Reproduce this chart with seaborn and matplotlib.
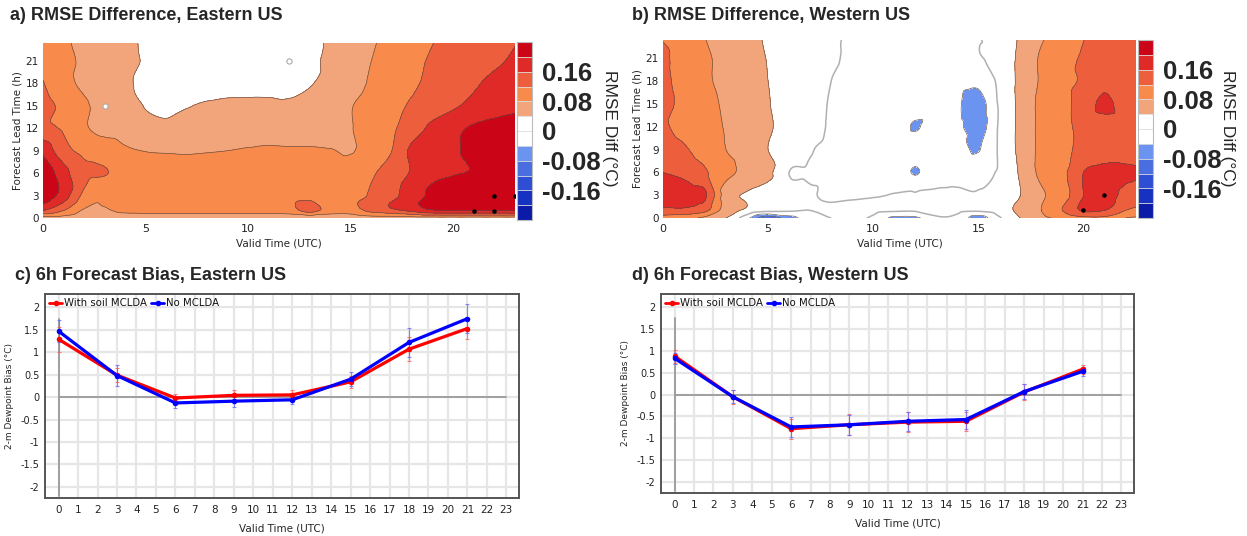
import matplotlib
matplotlib.use('Agg')
import matplotlib.pyplot as plt
import matplotlib.tri as mtri
from matplotlib.lines import Line2D
import numpy as np
import pandas as pd
import seaborn as sns

# RMSE difference grids: rows = forecast lead time, columns = valid hour 0..23
valid_hours = list(range(24))
lead_hours = [0, 1, 3, 6, 9, 12, 15, 18, 21, 24]

rmse_east = [
    [0.06, 0.06, 0.05, 0.05, 0.05, 0.05, 0.05, 0.05, 0.05, 0.05, 0.05, 0.05, 0.05, 0.05, 0.05, 0.05, 0.06, 0.06, 0.06, 0.06, 0.06, 0.06, 0.06, 0.06],
    [0.16, 0.12, 0.075, 0.075, 0.09, 0.095, 0.095, 0.095, 0.095, 0.095, 0.095, 0.095, 0.10, 0.135, 0.10, 0.10, 0.13, 0.15, 0.17, 0.195, 0.20, 0.20, 0.20, 0.20],
    [0.23, 0.18, 0.11, 0.085, 0.095, 0.10, 0.10, 0.10, 0.10, 0.10, 0.10, 0.10, 0.10, 0.105, 0.10, 0.105, 0.125, 0.15, 0.18, 0.21, 0.225, 0.23, 0.235, 0.235],
    [0.235, 0.175, 0.13, 0.122, 0.11, 0.10, 0.10, 0.10, 0.10, 0.10, 0.10, 0.10, 0.10, 0.10, 0.10, 0.105, 0.115, 0.14, 0.165, 0.19, 0.198, 0.203, 0.22, 0.23],
    [0.19, 0.135, 0.11, 0.10, 0.085, 0.079, 0.077, 0.076, 0.078, 0.08, 0.083, 0.086, 0.085, 0.085, 0.082, 0.077, 0.10, 0.12, 0.17, 0.18, 0.195, 0.21, 0.225, 0.23],
    [0.13, 0.115, 0.085, 0.07, 0.065, 0.055, 0.05, 0.06, 0.06, 0.06, 0.058, 0.055, 0.055, 0.055, 0.065, 0.078, 0.10, 0.115, 0.14, 0.17, 0.19, 0.205, 0.215, 0.22],
    [0.135, 0.11, 0.085, 0.07, 0.06, 0.038, 0.03, 0.038, 0.045, 0.05, 0.05, 0.048, 0.045, 0.05, 0.06, 0.078, 0.095, 0.11, 0.125, 0.14, 0.155, 0.17, 0.18, 0.19],
    [0.122, 0.09, 0.075, 0.065, 0.045, 0.035, 0.03, 0.025, 0.02, 0.02, 0.02, 0.025, 0.03, 0.038, 0.05, 0.065, 0.085, 0.105, 0.115, 0.13, 0.145, 0.156, 0.168, 0.175],
    [0.11, 0.09, 0.075, 0.07, 0.055, 0.035, 0.02, 0.015, 0.01, 0.01, 0.012, 0.015, 0.02, 0.03, 0.05, 0.065, 0.08, 0.095, 0.11, 0.125, 0.135, 0.15, 0.155, 0.165],
    [0.10, 0.085, 0.07, 0.065, 0.048, 0.035, 0.02, 0.015, 0.01, 0.01, 0.01, 0.015, 0.02, 0.03, 0.045, 0.06, 0.075, 0.09, 0.10, 0.118, 0.13, 0.14, 0.15, 0.158],
]

rmse_west = [
    [0.10, 0.09, 0.07, 0.04, -0.03, -0.11, -0.06, -0.01, 0.0, 0.002, -0.005, -0.05, -0.05, -0.005, -0.01, -0.06, -0.005, 0.04, 0.07, 0.09, 0.11, 0.11, 0.08, 0.07],
    [0.15, 0.15, 0.13, 0.06, 0.03, 0.01, 0.005, 0.0, 0.005, 0.008, 0.008, 0.005, 0.004, 0.006, 0.008, 0.005, 0.02, 0.05, 0.08, 0.12, 0.165, 0.16, 0.12, 0.10],
    [0.18, 0.175, 0.165, 0.06, 0.035, 0.02, 0.01, 0.003, -0.005, -0.004, -0.002, 0.001, 0.003, 0.004, 0.004, 0.002, 0.01, 0.04, 0.075, 0.10, 0.16, 0.175, 0.15, 0.14],
    [0.16, 0.15, 0.125, 0.09, 0.07, 0.05, 0.0, -0.003, -0.005, -0.01, -0.01, -0.012, -0.043, -0.012, -0.01, -0.01, 0.005, 0.045, 0.09, 0.11, 0.16, 0.17, 0.165, 0.16],
    [0.135, 0.125, 0.10, 0.08, 0.065, 0.04, 0.02, 0.002, -0.005, -0.01, -0.012, -0.015, -0.018, -0.02, -0.028, -0.042, 0.005, 0.05, 0.09, 0.11, 0.13, 0.14, 0.145, 0.145],
    [0.125, 0.11, 0.09, 0.078, 0.065, 0.045, 0.025, 0.01, -0.003, -0.01, -0.013, -0.018, -0.043, -0.02, -0.03, -0.06, 0.005, 0.05, 0.09, 0.11, 0.13, 0.14, 0.14, 0.14],
    [0.14, 0.105, 0.09, 0.075, 0.06, 0.042, 0.025, 0.01, -0.002, -0.01, -0.015, -0.018, -0.022, -0.028, -0.035, -0.058, 0.005, 0.05, 0.09, 0.11, 0.135, 0.17, 0.14, 0.14],
    [0.135, 0.10, 0.085, 0.072, 0.06, 0.04, 0.025, 0.012, 0.0, -0.008, -0.012, -0.014, -0.016, -0.018, -0.025, -0.03, 0.008, 0.05, 0.085, 0.11, 0.125, 0.15, 0.14, 0.145],
    [0.13, 0.10, 0.085, 0.07, 0.055, 0.038, 0.02, 0.012, 0.004, -0.005, -0.01, -0.012, -0.012, -0.01, -0.007, -0.002, 0.01, 0.05, 0.085, 0.105, 0.125, 0.14, 0.145, 0.15],
    [0.115, 0.10, 0.08, 0.065, 0.05, 0.035, 0.02, 0.01, 0.005, -0.005, -0.01, -0.015, -0.015, -0.01, -0.005, -0.001, 0.01, 0.045, 0.075, 0.095, 0.118, 0.13, 0.14, 0.145],
]

# significance markers (valid hour, lead hour)
east_sig_x = [21, 22, 22, 23]
east_sig_y = [1, 1, 3, 3]
east_open_x = [3, 12]
east_open_y = [15, 21]
west_sig_x = [20, 21]
west_sig_y = [1, 3]

levels = [-0.24, -0.20, -0.16, -0.12, -0.08, -0.04, 0, 0.04, 0.08, 0.12, 0.16, 0.20, 0.24]
level_colors = ['#0a1ba8', '#1532c0', '#2e4fd3', '#4a6ee0', '#6b93f0', '#ffffff',
                '#ffffff', '#f2a57a', '#f88b4c', '#ec5e3c', '#df2a27', '#cc0418']
cbar_ticks = [-0.16, -0.08, 0, 0.08, 0.16]
cbar_labels = ['-0.16', '-0.08', '0', '0.08', '0.16']

# 6h forecast bias
bias_hours = [0, 3, 6, 9, 12, 15, 18, 21]
east_soil = [1.29, 0.49, -0.02, 0.04, 0.05, 0.34, 1.07, 1.53]
east_soil_err = [0.28, 0.15, 0.10, 0.12, 0.11, 0.13, 0.27, 0.24]
east_none = [1.47, 0.48, -0.13, -0.09, -0.06, 0.40, 1.22, 1.75]
east_none_err = [0.25, 0.23, 0.12, 0.13, 0.10, 0.15, 0.33, 0.33]
west_soil = [0.88, -0.05, -0.78, -0.69, -0.63, -0.61, 0.06, 0.58]
west_soil_err = [0.15, 0.16, 0.23, 0.24, 0.23, 0.22, 0.18, 0.10]
west_none = [0.83, -0.05, -0.74, -0.69, -0.61, -0.57, 0.07, 0.53]
west_none_err = [0.13, 0.15, 0.23, 0.23, 0.22, 0.22, 0.17, 0.10]
runs = ['With soil MCLDA', 'No MCLDA']
run_colors = {'With soil MCLDA': '#ff0000', 'No MCLDA': '#0000ff'}
err_colors = {'With soil MCLDA': '#ff6060', 'No MCLDA': '#6a6aff'}
bias_yticks = [-2, -1.5, -1, -0.5, 0, 0.5, 1, 1.5, 2]
bias_ylabels = ['-2', '-1.5', '-1', '-0.5', '0', '0.5', '1', '1.5', '2']

sns.set_style('white')
plt.rcParams['font.family'] = ['DejaVu Sans']
W, H = 1247, 536


def box(l, t, r, b):
    return [l / W, 1 - b / H, (r - l) / W, (b - t) / H]


def smooth_grid(grid):
    # smooth (cubic) interpolation of the coarse grid for nicer contours
    gx, gy = np.meshgrid(valid_hours, lead_hours)
    tri = mtri.Triangulation(gx.ravel().astype(float), gy.ravel().astype(float))
    interp = mtri.CubicTriInterpolator(tri, np.array(grid).ravel(), kind='geom')
    xf = np.linspace(0, 23, 231)
    yf = np.linspace(0, 24, 241)
    fx, fy = np.meshgrid(xf, yf)
    zf = np.clip(np.asarray(interp(fx, fy)), -0.239, 0.239)
    return xf, yf, zf


def draw_rmse(ax, cax, grid, xmax, sx, sy, ox=None, oy=None):
    xf, yf, z = smooth_grid(grid)
    cs = ax.contourf(xf, yf, z, levels=levels, colors=level_colors)
    ax.contour(xf, yf, z, levels=[v for v in levels if v != 0],
               colors='#5e4a42', linewidths=0.45, linestyles='solid')
    if z.min() < 0:
        ax.contour(xf, yf, z, levels=[0], colors='#b0b0b0', linewidths=1.1, linestyles='solid')
    ax.scatter(sx, sy, s=5, color='black', zorder=5)
    if ox is not None:
        ax.scatter(ox, oy, s=14, facecolor='white', edgecolor='#aaaaaa', linewidth=0.8, zorder=5)
    ax.set_xlim(0, xmax)
    ax.set_ylim(0, 23.4)
    ax.set_xticks([0, 5, 10, 15, 20])
    ax.set_yticks(range(0, 22, 3))
    for s in ax.spines.values():
        s.set_visible(False)
    ax.tick_params(axis='x', labelsize=8, length=1.5, pad=3, colors='#222222')
    ax.tick_params(axis='y', labelsize=7.5, length=2, pad=1, colors='#222222')
    ax.set_xlabel('Valid Time (UTC)', fontsize=7.5, labelpad=3)
    ax.set_ylabel('Forecast Lead Time (h)', fontsize=7.5, labelpad=2)
    cb = fig.colorbar(cs, cax=cax, ticks=cbar_ticks, drawedges=True)
    cb.ax.set_yticklabels(cbar_labels, fontsize=18.5, fontweight='bold', family='Liberation Sans')
    cb.ax.tick_params(length=0, pad=7)
    cb.outline.set_edgecolor('#bbbbbb')
    cb.dividers.set_color('#dddddd')
    cb.dividers.set_linewidth(0.6)


def draw_bias(ax, soil, soil_err, none, none_err):
    df = pd.DataFrame({
        'hour': bias_hours * 2,
        'bias': soil + none,
        'run': [runs[0]] * len(bias_hours) + [runs[1]] * len(bias_hours),
    })
    ax.set_xticks(range(24))
    ax.set_yticks(bias_yticks)
    ax.set_yticklabels(bias_ylabels)
    ax.grid(True, color='#e6e6e6', lw=1.6)
    ax.set_axisbelow(True)
    ax.plot([0, 23], [0, 0], color='#9a9a9a', lw=1.3, zorder=1)
    ax.plot([0, 0], [-2.2, 1.75], color='#9a9a9a', lw=1.3, zorder=1)
    ax.errorbar(bias_hours, soil, yerr=soil_err, fmt='none', ecolor=err_colors[runs[0]],
                elinewidth=0.8, capsize=1.5, capthick=0.8, alpha=0.8, zorder=2)
    ax.errorbar(bias_hours, none, yerr=none_err, fmt='none', ecolor=err_colors[runs[1]],
                elinewidth=0.8, capsize=1.5, capthick=0.8, alpha=0.8, zorder=2)
    sns.lineplot(data=df, x='hour', y='bias', hue='run', palette=run_colors, marker='o',
                 markersize=4, markeredgewidth=0, linewidth=2.3, legend=False, ax=ax, zorder=3)
    ax.set_xlim(-0.7, 23.65)
    ax.set_ylim(-2.25, 2.3)
    for s in ax.spines.values():
        s.set_visible(True)
        s.set_color('#555555')
        s.set_linewidth(1.4)
    ax.tick_params(axis='x', labelsize=7.5, length=0, pad=5, colors='#222222')
    ax.tick_params(axis='y', labelsize=7, length=0, pad=4, colors='#222222')
    ax.set_xlabel('Valid Time (UTC)', fontsize=7.5, labelpad=6)
    ax.set_ylabel('2-m Dewpoint Bias (°C)', fontsize=6.5, labelpad=5)
    handles = [Line2D([0], [0], color=run_colors[r], lw=2, marker='o', markersize=3) for r in runs]
    ax.legend(handles, runs, loc='upper left', ncol=2, frameon=False, fontsize=7.3,
              handlelength=1.3, handletextpad=0.2, columnspacing=0.4,
              borderaxespad=0.2, borderpad=0.2, labelcolor='#111111')


fig = plt.figure(figsize=(W / 100, H / 100), dpi=100)

ax_a = fig.add_axes(box(43, 43, 515, 218))
cax_a = fig.add_axes(box(517, 42, 532, 220))
ax_b = fig.add_axes(box(663, 40, 1136, 218))
cax_b = fig.add_axes(box(1138, 40, 1153, 218))
ax_c = fig.add_axes(box(45, 294, 519, 498))
ax_d = fig.add_axes(box(661, 294, 1134, 493))

draw_rmse(ax_a, cax_a, rmse_east, 23, east_sig_x, east_sig_y, east_open_x, east_open_y)
draw_rmse(ax_b, cax_b, rmse_west, 22.5, west_sig_x, west_sig_y)
draw_bias(ax_c, east_soil, east_soil_err, east_none, east_none_err)
draw_bias(ax_d, west_soil, west_soil_err, west_none, west_none_err)

fig.text(610 / W, 1 - 128 / H, 'RMSE Diff (°C)', rotation=270, fontsize=12.5,
         family='Liberation Sans', ha='center', va='center')
fig.text(1228 / W, 1 - 128 / H, 'RMSE Diff (°C)', rotation=270, fontsize=12.5,
         family='Liberation Sans', ha='center', va='center')

title_kw = dict(fontsize=13, fontweight='bold', family='Liberation Sans', va='center', ha='left')
fig.text(10 / W, 1 - 15 / H, 'a) RMSE Difference, Eastern US', **title_kw)
fig.text(632 / W, 1 - 15 / H, 'b) RMSE Difference, Western US', **title_kw)
fig.text(15 / W, 1 - 276 / H, 'c) 6h Forecast Bias, Eastern US', **title_kw)
fig.text(632 / W, 1 - 275 / H, 'd) 6h Forecast Bias, Western US', **title_kw)

fig.savefig('out.png', dpi=100)
plt.close(fig)
